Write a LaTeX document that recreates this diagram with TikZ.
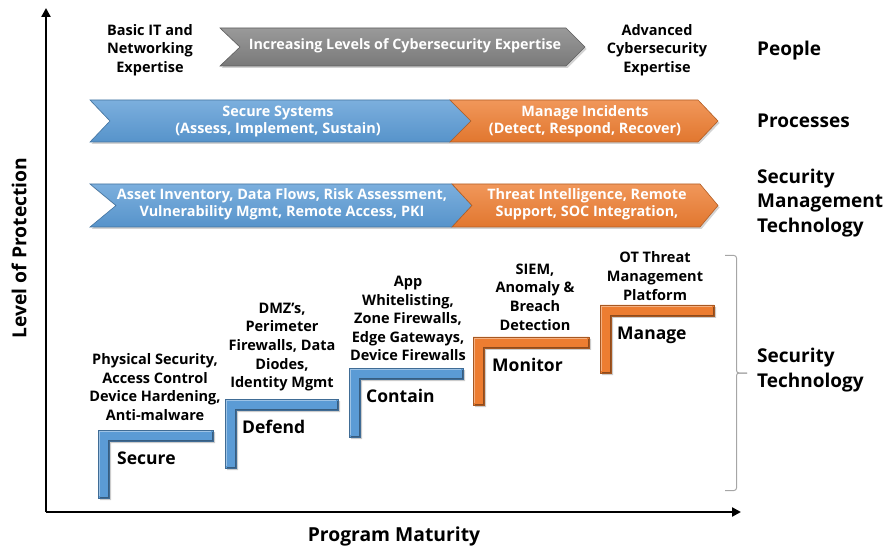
\documentclass[tikz,border=0pt]{standalone}
\usepackage{fontspec}
\setmainfont{Open Sans}
\usetikzlibrary{arrows.meta,shadows}
\definecolor{bl}{HTML}{5B9BD5}
\definecolor{orng}{HTML}{ED7D31}
\definecolor{gry}{HTML}{808080}
\definecolor{brk}{HTML}{A6A6A6}
\newcommand\stairL[5]{% color, xleft, xright, ytop, ybottom
  \path[stairbox=#1] (#2,#4) -- (#3,#4) -- (#3,#4+11) -- (#2+11,#4+11) -- (#2+11,#5) -- (#2,#5) -- cycle;
  \draw[#1!60!white, line width=1.2] (#3-2,#4+1.2) -- (#2+1.2,#4+1.2) -- (#2+1.2,#5-2);
  \draw[#1!60!black, line width=1.2] (#3-0.6,#4+2) -- (#3-0.6,#4+10.4) -- (#2+10.4,#4+10.4) -- (#2+10.4,#5-0.6) -- (#2+2,#5-0.6);
}
\begin{document}
\begin{tikzpicture}[x=1pt,y=-1pt,
  chev/.style={top color=#1!80!white, bottom color=#1!95!black, draw=#1!75!black, line width=0.6,
     drop shadow={opacity=0.35, shadow xshift=1.5pt, shadow yshift=-2pt}},
  stairbox/.style={fill=#1, draw=#1!70!black, line width=0.5,
     drop shadow={opacity=0.4, shadow xshift=2pt, shadow yshift=-2pt}},
  intext/.style={text=white, font=\bfseries\fontsize{14.4}{17.5}\selectfont, align=center, inner sep=0pt},
  lbl/.style={font=\bfseries\fontsize{14.5}{18.6}\selectfont, align=center, inner sep=0pt},
  side/.style={font=\bfseries\fontsize{19}{24.5}\selectfont, align=left, anchor=west, inner sep=0pt},
  steplbl/.style={font=\fontsize{17.5}{20}\selectfont\bfseries, anchor=west, inner sep=0pt},
  axis/.style={line width=2.6, -{Triangle[length=9pt,width=9pt]}},
  axlbl/.style={font=\bfseries\fontsize{19.3}{22}\selectfont, inner sep=0pt}
]
\useasboundingbox (0,0) rectangle (887,548);

% axes
\coordinate (origin) at (46,512);
\coordinate (ytop) at (46,8);
\coordinate (xend) at (741,512);
\draw[axis] (origin) -- (ytop);
\draw[axis] (origin) -- (xend);
\node[axlbl, rotate=90] (ylab) at (19,248) {Level of Protection};
\node[axlbl] (xlab) at (394,536) {Program Maturity};

% People row
\path[chev=gry] (220,28) -- (566,28) -- (585,47) -- (566,66) -- (220,66) -- (240,47) -- cycle;
\node[intext, font=\bfseries\fontsize{14.3}{17}\selectfont] (inc) at (405,46) {Increasing Levels of Cybersecurity Expertise};
\node[lbl] (basic) at (150,50) {Basic IT and\\Networking\\Expertise};
\node[lbl] (adv) at (657,50) {Advanced\\Cybersecurity\\Expertise};
\node[side] (people) at (757,51) {People};

% Processes row
\path[chev=bl] (90,100) -- (450,100) -- (471,121) -- (450,142) -- (90,142) -- (110,121) -- cycle;
\path[chev=orng] (450,100) -- (698,100) -- (718,121) -- (698,142) -- (450,142) -- (471,121) -- cycle;
\node[intext] (secsys) at (278,121.5) {Secure Systems\\(Assess, Implement, Sustain)};
\node[intext] (mgmt) at (585,121.5) {Manage Incidents\\(Detect, Respond, Recover)};
\node[side] (proc) at (757,121) {Processes};

% Security management technology row
\path[chev=bl] (90,184) -- (452,184) -- (472,205.5) -- (452,227) -- (90,227) -- (116,205.5) -- cycle;
\path[chev=orng] (452,184) -- (700,184) -- (718,205.5) -- (700,227) -- (452,227) -- (472,205.5) -- cycle;
\node[intext] (asset) at (282,204.5) {Asset Inventory, Data Flows, Risk Assessment,\\Vulnerability Mgmt, Remote Access, PKI};
\node[intext] (threat) at (587,204.5) {Threat Intelligence, Remote\\Support, SOC Integration,};
\node[side] (smt) at (757,203) {Security\\Management\\Technology};

% stairs
\stairL{bl}{98}{213}{430}{498}
\stairL{bl}{225}{338}{399}{468}
\stairL{bl}{349}{463}{368}{437}
\stairL{orng}{473}{589}{337}{405}
\stairL{orng}{600}{714}{305}{373}

\node[steplbl] (s1) at (117,458) {Secure};
\node[steplbl] (s2) at (242,427) {Defend};
\node[steplbl] (s3) at (366,396) {Contain};
\node[steplbl] (s4) at (492,365) {Monitor};
\node[steplbl] (s5) at (617,335) {Manage};

\node[lbl] (t1) at (155,387) {Physical Security,\\Access Control\\Device Hardening,\\Anti-malware};
\node[lbl] (t2) at (282,347) {DMZ’s,\\Perimeter\\Firewalls, Data\\Diodes,\\Identity Mgmt};
\node[lbl] (t3) at (408,318.5) {App\\Whitelisting,\\Zone Firewalls,\\Edge Gateways,\\Device Firewalls};
\node[lbl] (t4) at (535,297) {SIEM,\\Anomaly \&\\Breach\\Detection};
\node[lbl] (t5) at (655,276) {OT Threat\\Management\\Platform};

% bracket
\draw[brk, line width=1, rounded corners=2.5] (725,255.5) -- (736.5,255.5) -- (736.5,373) -- (747,373);
\draw[brk, line width=1, rounded corners=2.5] (747,373) -- (736.5,373) -- (736.5,490.5) -- (725,490.5);
\node[side] (sectech) at (757,370) {Security\\Technology};
\end{tikzpicture}
\end{document}
